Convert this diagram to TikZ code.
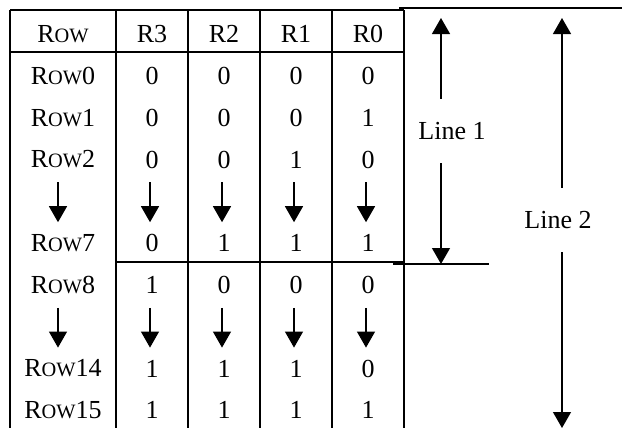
\documentclass[tikz,border=0pt]{standalone}
\usepackage{fontspec}
\setmainfont{Liberation Serif}
\usetikzlibrary{arrows.meta}
\newcommand{\rowname}[1]{R{\fontsize{10.2}{12}\selectfont OW}#1}
\begin{document}
\begin{tikzpicture}[x=0.5pt,y=-0.5pt,
                    cell/.style={inner sep=0pt,font=\fontsize{13}{15}\selectfont},
                    grid line/.style={line width=1pt},
                    thin line/.style={line width=0.6pt},
                    down arrow/.style={line width=0.6pt,-{Triangle[width=9pt,length=8pt]}},
                    dim label/.style={inner xsep=2pt,inner ysep=11.5pt,font=\fontsize{13}{15}\selectfont}]
  \useasboundingbox (0,0) rectangle (622,428);
  % table grid
  \draw[grid line] (10,10) -- (404,10);
  \draw[grid line] (10,52) -- (404,52);
  \draw[grid line] (116,262) -- (404,262);
  \foreach \x in {10,116,188,260,332,404}
    \draw[grid line] (\x,10) -- (\x,428);
  % header
  \node[cell] (h0) at (63,34) {\rowname{}};
  \node[cell] (h1) at (152,34) {R3};
  \node[cell] (h2) at (224,34) {R2};
  \node[cell] (h3) at (296,34) {R1};
  \node[cell] (h4) at (368,34) {R0};
  % rows: slot/label/R3/R2/R1/R0
  \foreach \i/\n/\a/\b/\c/\d in {0/0/0/0/0/0, 1/1/0/0/0/1, 2/2/0/0/1/0,
                                 4/7/0/1/1/1, 5/8/1/0/0/0, 7/14/1/1/1/0, 8/15/1/1/1/1}{
    \pgfmathsetmacro{\yy}{52+41.8*(\i+0.5)+3}
    \node[cell] (r\n-0) at (63,\yy) {\rowname{\n}};
    \node[cell] (r\n-1) at (152,\yy) {\a};
    \node[cell] (r\n-2) at (224,\yy) {\b};
    \node[cell] (r\n-3) at (296,\yy) {\c};
    \node[cell] (r\n-4) at (368,\yy) {\d};
  }
  % arrows inside the table
  \foreach \i in {3,6}{
    \foreach \x [count=\k] in {58,150,222,294,366}{
      \coordinate (s\i-\k) at (\x,{52+41.8*\i+5});
      \coordinate (e\i-\k) at (\x,{52+41.8*(\i+1)+3});
      \draw[down arrow] (s\i-\k) -- (e\i-\k);
    }
  }
  % dimension lines on the right
  \draw[thin line] (399,8) -- (622,8);
  \draw[thin line] (393,264) -- (489,264);
  \coordinate (l1top) at (441,18);
  \coordinate (l1bot) at (441,264);
  \coordinate (l2top) at (562,18);
  \coordinate (l2bot) at (562,428);
  \node[dim label] (line1) at (452,131) {Line 1};
  \node[dim label] (line2) at (558,220) {Line 2};
  \draw[down arrow] (l1top |- line1.north) -- (l1top);
  \draw[down arrow] (l1bot |- line1.south) -- (l1bot);
  \draw[down arrow] (l2top |- line2.north) -- (l2top);
  \draw[down arrow] (l2bot |- line2.south) -- (l2bot);
\end{tikzpicture}
\end{document}
